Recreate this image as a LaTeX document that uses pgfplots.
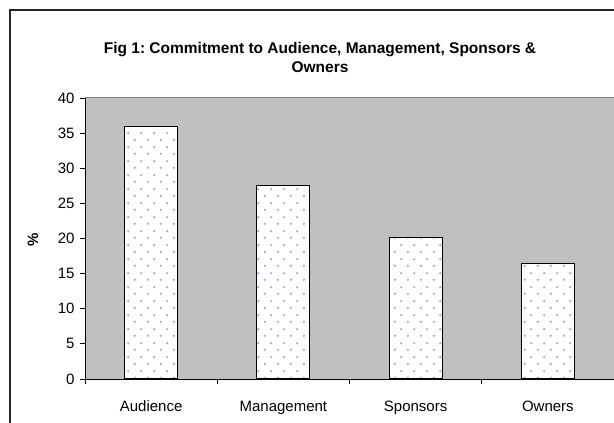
\documentclass[border=0pt]{standalone}
\usepackage{pgfplots}
\pgfplotsset{compat=1.18}
\usepackage{fontspec}
\setmainfont{Liberation Sans}
\usetikzlibrary{patterns}
\pgfdeclarepatternformonly{xldots}{\pgfpointorigin}{\pgfqpoint{13.3pt}{14pt}}{\pgfqpoint{13.3pt}{14pt}}{%
 \pgfpathcircle{\pgfqpoint{3pt}{3.5pt}}{1.3pt}%
 \pgfpathcircle{\pgfqpoint{9.65pt}{10.5pt}}{1.3pt}%
 \pgfusepath{fill}}
\definecolor{plotgray}{RGB}{192,192,192}
\definecolor{dotblue}{RGB}{160,160,255}

\begin{document}
\frenchspacing
\begin{tikzpicture}[x=1pt,y=1pt]
\useasboundingbox (0,0) rectangle (614,423);
\fill[white] (0,0) rectangle (614,423);
\draw[line width=1.3pt, black!85] (10,-20) rectangle (640,413);
\node[font=\bfseries\fontsize{15.5}{19}\selectfont, align=center] at (320,366) {Fig 1: Commitment to Audience, Management, Sponsors \&\\Owners};
\begin{axis}[
  at={(85pt,44pt)}, anchor=south west,
  scale only axis, width=529pt, height=281pt,
  xmin=-0.5, xmax=3.5, ymin=0, ymax=40,
  axis background/.style={fill=plotgray},
  axis x line*=bottom, axis y line*=left,
  axis line style={black, line width=0.8pt},
  xtick={0,1,2,3}, xticklabels={Audience,Management,Sponsors,Owners},
  minor xtick={-0.5,0.5,1.5,2.5,3.5},
  major x tick style={draw=none},
  ytick={0,5,...,40},
  tick align=outside,
  major tick length=5pt, minor tick length=5pt,
  tick style={black, line width=0.8pt},
  ticklabel style={font=\fontsize{15}{17}\selectfont},
  /pgf/number format/assume math mode=true,
  xticklabel style={yshift=-13pt, text height=11pt, text depth=3pt},
  yticklabel style={xshift=-2pt},
  ybar, bar width=0.4,
  clip=false,
]
\addplot[fill=white, draw=black, line width=1pt, postaction={pattern=xldots, pattern color=dotblue}] coordinates {(0,36) (1,27.5) (2,20.1) (3,16.4)};
\draw[gray, line width=1pt] (axis cs:-0.5,40) -- (axis cs:3.5,40);
\end{axis}
\node[rotate=90, font=\bfseries\fontsize{15}{17}\selectfont] at (33,183) {\%};
\end{tikzpicture}
\end{document}
